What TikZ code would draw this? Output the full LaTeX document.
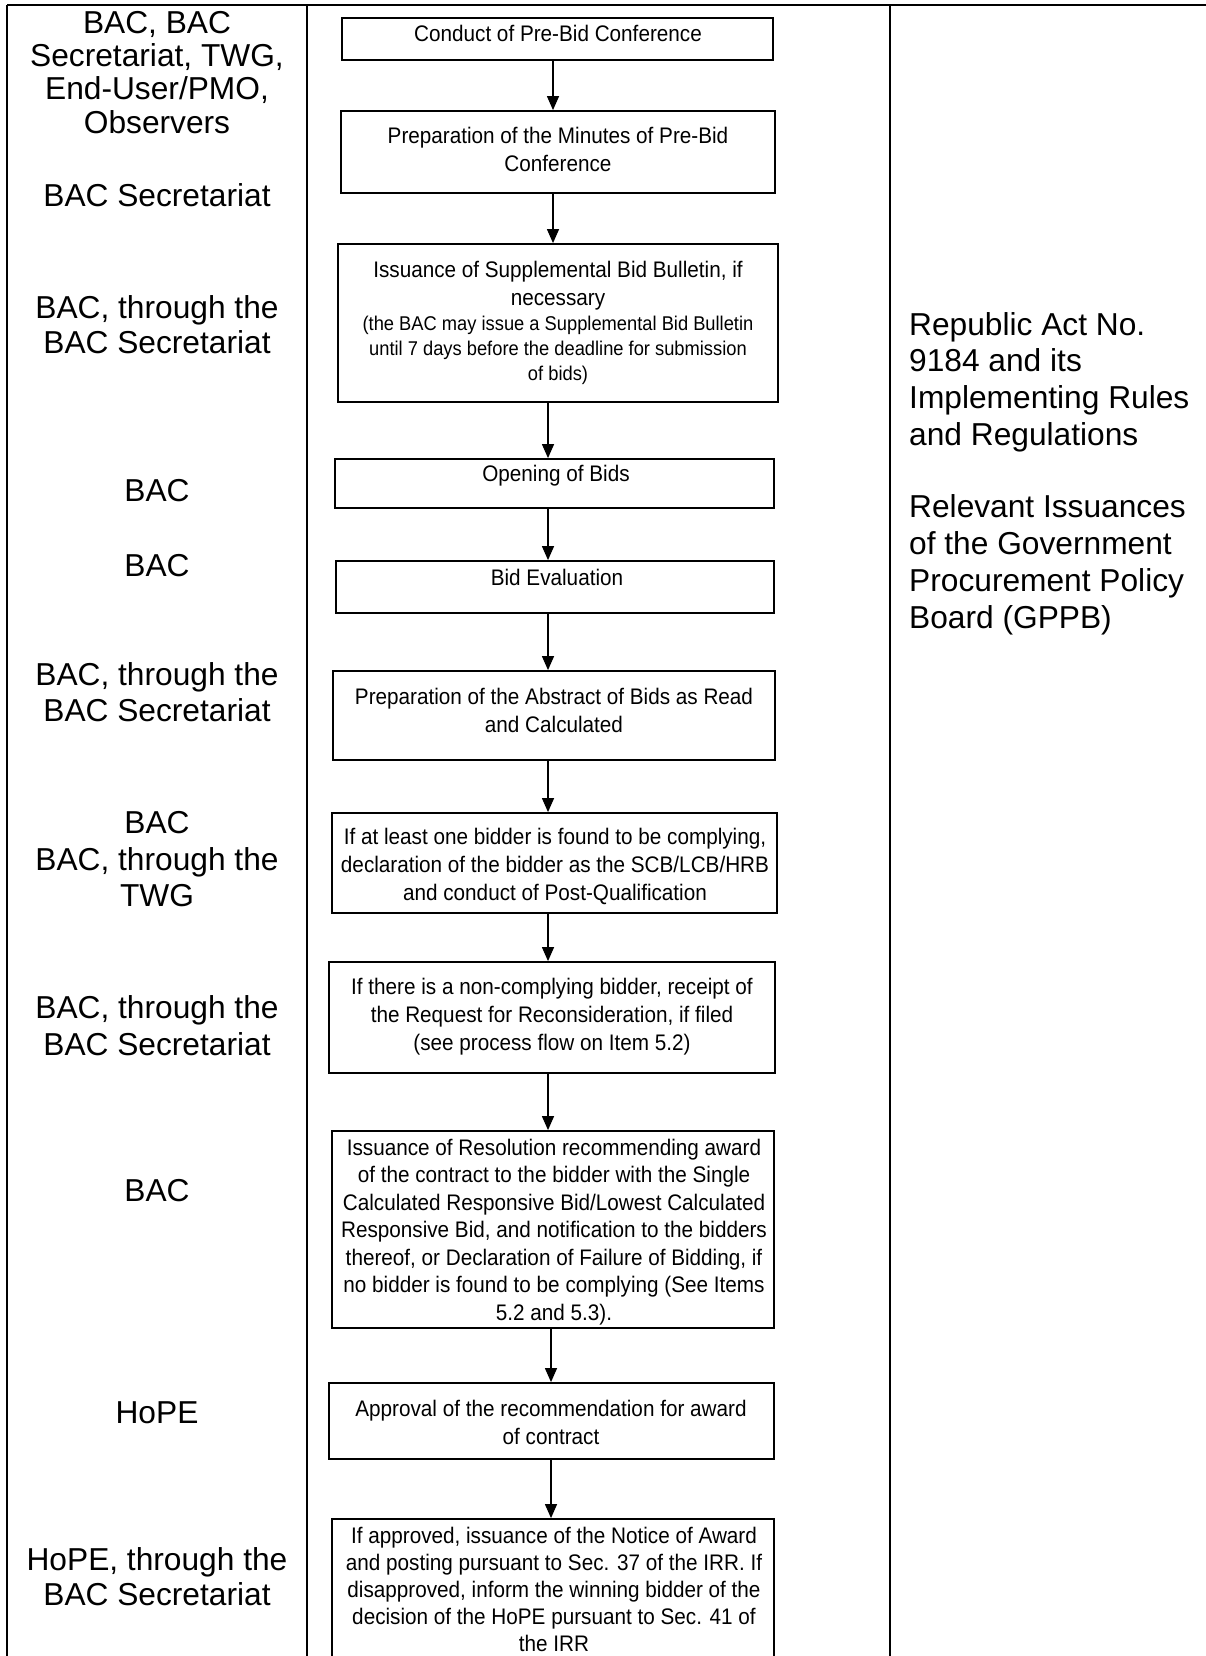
\documentclass[tikz,border=0pt]{standalone}
\usepackage{fontspec}
\setmainfont{Liberation Sans}
\newfontfamily\boxfont[FakeStretch=0.92]{Liberation Sans}
\usetikzlibrary{arrows.meta}
\begin{document}
\begin{tikzpicture}[x=1pt,y=-1pt,
  tbl/.style={line width=2pt},
  bx/.style={draw, line width=1.8pt, fill=white, inner sep=0pt},
  btxt/.style={font=\boxfont\fontsize{22.5}{28}\selectfont, align=center, inner sep=0pt, anchor=base},
  bsmall/.style={font=\boxfont\fontsize{19.9}{25}\selectfont, align=center, inner sep=0pt, anchor=base},
  ltxt/.style={font=\fontsize{31.7}{36}\selectfont, align=center, inner sep=0pt, anchor=base},
  rtxt/.style={font=\fontsize{31.7}{36.7}\selectfont, align=left, inner sep=0pt, anchor=base west},
  arr/.style={line width=1.3pt, -{Triangle[length=14pt,width=12pt]}}
]
\useasboundingbox (0,0) rectangle (1206,1656);
\clip (0,0) rectangle (1206,1656);
\fill[white] (0,0) rectangle (1206,1656);

% table frame
\draw[tbl] (7,5) -- (1206,5);
\draw[tbl] (7,5) -- (7,1660);
\draw[tbl] (307,5) -- (307,1660);
\draw[tbl] (890,5) -- (890,1660);

% boxes
\node[bx, minimum width=431pt, minimum height=42pt]  (b1)  at (557.5,39) {};
\node[bx, minimum width=434pt, minimum height=82pt]  (b2)  at (558,152) {};
\node[bx, minimum width=440pt, minimum height=158pt] (b3)  at (558,323) {};
\node[bx, minimum width=439pt, minimum height=49pt]  (b4)  at (554.5,483.5) {};
\node[bx, minimum width=438pt, minimum height=52pt]  (b5)  at (555,587) {};
\node[bx, minimum width=442pt, minimum height=89pt]  (b6)  at (554,715.5) {};
\node[bx, minimum width=445pt, minimum height=100pt] (b7)  at (554.5,863) {};
\node[bx, minimum width=446pt, minimum height=111pt] (b8)  at (552,1017.5) {};
\node[bx, minimum width=442pt, minimum height=197pt] (b9)  at (553,1229.5) {};
\node[bx, minimum width=445pt, minimum height=76pt]  (b10) at (551.5,1421) {};
\node[bx, minimum width=442pt, minimum height=181pt] (b11) at (553,1609.5) {};

% box texts (anchor = baseline of last line)
\node[btxt] (t1) at (558,41.7) {Conduct of Pre-Bid Conference};
\node[btxt] (t2) at (558,171.3) {Preparation of the Minutes of Pre-Bid\\Conference};
\node[btxt] (t3) at (558,305.3) {Issuance of Supplemental Bid Bulletin, if\\necessary};
\node[bsmall] (t3b) at (558,380) {(the BAC may issue a Supplemental Bid Bulletin\\until 7 days before the deadline for submission\\of bids)};
\node[btxt] (t4) at (556,481.7) {Opening of Bids};
\node[btxt] (t5) at (557,585) {Bid Evaluation};
\node[btxt] (t6) at (554,732.3) {Preparation of the Abstract of Bids as Read\\and Calculated};
\node[btxt] (t7) at (555,900) {If at least one bidder is found to be complying,\\declaration of the bidder as the SCB/LCB/HRB\\and conduct of Post-Qualification};
\node[btxt] (t8) at (552,1050) {If there is a non-complying bidder, receipt of\\the Request for Reconsideration, if filed\\(see process flow on Item 5.2)};
\node[btxt, font=\boxfont\fontsize{22.5}{27.5}\selectfont] (t9) at (554,1320) {Issuance of Resolution recommending award\\of the contract to the bidder with the Single\\Calculated Responsive Bid/Lowest Calculated\\Responsive Bid, and notification to the bidders\\thereof, or Declaration of Failure of Bidding, if\\no bidder is found to be complying (See Items\\5.2 and 5.3).};
\node[btxt, font=\boxfont\fontsize{22.5}{27.3}\selectfont] (t10) at (551,1444) {Approval of the recommendation for award\\of contract};
\node[btxt, font=\boxfont\fontsize{22.5}{27.1}\selectfont] (t11) at (554,1651.7) {If approved, issuance of the Notice of Award\\and posting pursuant to Sec. 37 of the IRR. If\\disapproved, inform the winning bidder of the\\decision of the HoPE pursuant to Sec. 41 of\\the IRR};

% arrows
\coordinate (xa) at (553,0);
\coordinate (xb) at (548,0);
\coordinate (xc) at (551,0);
\draw[arr] (b1.south -| xa) -- (b2.north -| xa);
\draw[arr] (b2.south -| xa) -- (b3.north -| xa);
\draw[arr] (b3.south -| xb) -- (b4.north -| xb);
\draw[arr] (b4.south -| xb) -- (b5.north -| xb);
\draw[arr] (b5.south -| xb) -- (b6.north -| xb);
\draw[arr] (b6.south -| xb) -- (b7.north -| xb);
\draw[arr] (b7.south -| xb) -- (b8.north -| xb);
\draw[arr] (b8.south -| xb) -- (b9.north -| xb);
\draw[arr] (b9.south -| xc) -- (b10.north -| xc);
\draw[arr] (b10.south -| xc) -- (b11.north -| xc);

% left column (anchor = baseline of last line)
\node[ltxt, font=\fontsize{31.7}{33.3}\selectfont] (l1) at (157,133.3) {BAC, BAC\\Secretariat, TWG,\\End-User/PMO,\\Observers};
\node[ltxt] (l2) at (157,207) {BAC Secretariat};
\node[ltxt, font=\fontsize{31.7}{35}\selectfont] (l3) at (157,353.3) {BAC, through the\\BAC Secretariat};
\node[ltxt] (l4) at (157,501.7) {BAC};
\node[ltxt] (l5) at (157,576) {BAC};
\node[ltxt, font=\fontsize{31.7}{36.7}\selectfont] (l6) at (157,721.7) {BAC, through the\\BAC Secretariat};
\node[ltxt, font=\fontsize{31.7}{36.7}\selectfont] (l7) at (157,906.7) {BAC\\BAC, through the\\TWG};
\node[ltxt, font=\fontsize{31.7}{37}\selectfont] (l8) at (157,1055) {BAC, through the\\BAC Secretariat};
\node[ltxt] (l9) at (157,1201.5) {BAC};
\node[ltxt] (l10) at (157,1423) {HoPE};
\node[ltxt, font=\fontsize{31.7}{35}\selectfont] (l11) at (157,1605) {HoPE, through the\\BAC Secretariat};

% right column (anchor = baseline of last line)
\node[rtxt] (r1) at (909,445.1) {Republic Act No.\\9184 and its\\Implementing Rules\\and Regulations};
\node[rtxt] (r2) at (909,628) {Relevant Issuances\\of the Government\\Procurement Policy\\Board (GPPB)};
\end{tikzpicture}
\end{document}
